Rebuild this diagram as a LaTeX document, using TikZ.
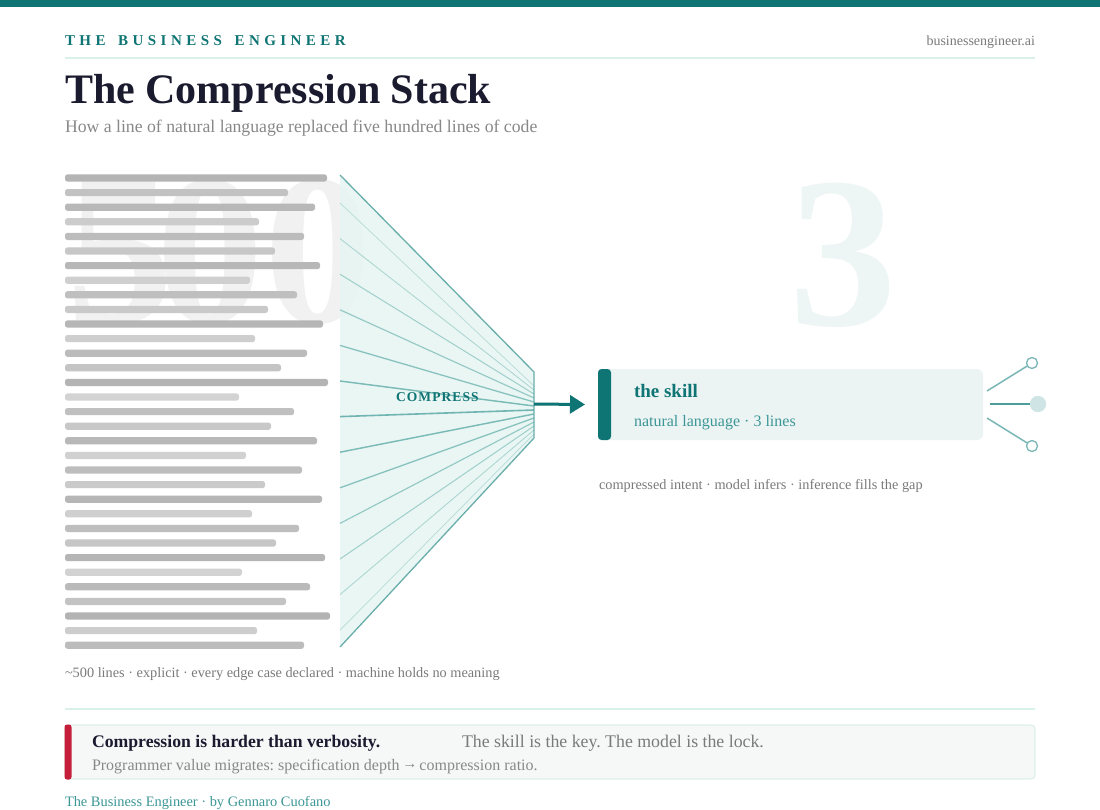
\documentclass[tikz,border=0pt]{standalone}
\usepackage{fontspec}
\setmainfont{Liberation Serif}
\usetikzlibrary{arrows.meta}
\definecolor{teal1}{HTML}{0F7474}
\definecolor{teal2}{HTML}{3D9696}
\definecolor{mint}{HTML}{D9F0EB}
\definecolor{gray1}{HTML}{7A7A7A}
\definecolor{gray2}{HTML}{888888}
\definecolor{titlec}{HTML}{1B1B2F}
\definecolor{ghost}{HTML}{F1F1F1}
\definecolor{ghostb}{HTML}{EEF5F5}
\definecolor{codedark}{HTML}{B3B3B3}
\definecolor{codelight}{HTML}{D3D3D3}
\definecolor{fanc}{HTML}{5BAAA6}
\definecolor{funfill}{HTML}{E6F5F1}
\definecolor{funstroke}{HTML}{6AAEAB}
\definecolor{skillbg}{HTML}{EBF4F3}
\definecolor{brc}{HTML}{7AB6B6}
\definecolor{brmid}{HTML}{4E9C9C}
\definecolor{dotfill}{HTML}{CFE5E5}
\definecolor{boxbg}{HTML}{F6F8F8}
\definecolor{boxline}{HTML}{DCEFEB}
\definecolor{redbar}{HTML}{C41E3A}
\makeatletter
\def\lsp#1#2{\def\lsp@amt{#1}\lsp@a#2\relax}
\def\lsp@a#1{\ifx\relax#1\else#1\hspace{\lsp@amt}\expandafter\lsp@a\fi}
\makeatother
\begin{document}
\frenchspacing
\begin{tikzpicture}[x=1pt,y=-1pt,
  every node/.style={inner sep=0pt, outer sep=0pt},
  txt/.style={anchor=base west},
  bignum/.style={anchor=base, font=\fontsize{215}{215}\selectfont\bfseries},
  branch/.style={draw=brc, line width=1.5pt},
  opendot/.style={circle, draw=brc, line width=1.3pt, fill=white, minimum size=11pt},
]
\useasboundingbox (0,0) rectangle (1100,809);
\fill[white] (0,0) rectangle (1100,809);
\fill[teal1] (0,0) rectangle (1100,7);

% header
\node[txt, text=teal1, font=\fontsize{15}{18}\selectfont\bfseries] (brand) at (65,45)
  {\lsp{4.45pt}{THE}\hspace{8.2pt}\lsp{4.45pt}{BUSINESS}\hspace{8.2pt}\lsp{4.45pt}{ENGINEER}};
\node[anchor=base east, text=gray1, font=\fontsize{14}{17}\selectfont] (url) at (1035,45) {businessengineer.ai};
\draw[mint, line width=2pt] (65,57.5) -- (1035,57.5);
\node[txt, text=titlec, font=\fontsize{42}{50}\selectfont\bfseries] (title) at (65,103) {The Compression Stack};
\node[txt, text=gray2, font=\fontsize{17.7}{20}\selectfont] (sub) at (65,132) {How a line of natural language replaced five hundred lines of code};

% ghost numbers
\node[bignum, text=ghost] (d5) at (120,322) {5};
\node[bignum, text=ghost] (d0a) at (210,322) {0};
\node[bignum, text=ghost] (d0b) at (318,322) {0};
\node[bignum, text=ghostb] (three) at (843,325) {3};

% funnel fill
\fill[funfill, fill opacity=0.85] (340,175) -- (534,372) -- (534,438) -- (340,647) -- cycle;

% code lines
\foreach \len [count=\k from 0] in {327,288,315,259,304,275,320,250,297,268,323,255,307,281,328,239,294,271,317,246,302,265,322,252,299,276,325,242,310,286,330,257,304}{
  \pgfmathsetmacro\yy{178+\k*14.6}
  \pgfmathtruncatemacro\pp{max(0,min(100,(\len-239)/91*100))}
  \fill[codedark!\pp!codelight, rounded corners=2.5pt] (65,\yy-3.6) rectangle (\len,\yy+3.6);
}

% fan lines
\foreach \i in {0,...,12}{
  \pgfmathsetmacro\ys{203+\i*35.6}
  \pgfmathsetmacro\ye{386+\i*4}
  \pgfmathsetmacro\ww{1-abs(\i-6)/6}
  \pgfmathsetmacro\op{0.35+0.5*\ww}
  \pgfmathsetmacro\lw{0.7+0.9*\ww}
  \draw[fanc, line width=\lw pt, draw opacity=\op] (340,\ys) -- (534,\ye);
}
\draw[funstroke, line width=1.3pt, line join=round] (340,175) -- (534,372) -- (534,438) -- (340,647);

\node[txt, text=teal1, font=\fontsize{13.5}{16}\selectfont\bfseries] (compress) at (396,401.5) {\lsp{1.1pt}{COMPRESS}};

% skill box
\node[fill=skillbg, rounded corners=6pt, minimum width=385pt, minimum height=71pt, anchor=north west] (skill) at (598,369) {};
\node[fill=teal1, rounded corners=3.5pt, minimum width=13pt, minimum height=71pt, anchor=north west] (acc) at (598,369) {};
\node[txt, text=teal1, font=\fontsize{19}{22}\selectfont\bfseries] (skilltitle) at (634,397) {the skill};
\node[txt, text=teal2, font=\fontsize{16}{19}\selectfont] (skillsub) at (634,426) {natural language · 3 lines};

\coordinate (fr) at (534,404);
\draw[teal1, line width=3pt, -{Triangle[length=15pt,width=18pt]}] (fr) -- ([xshift=-13pt]acc.west);

% branches
\coordinate (b1) at (987,391);
\coordinate (b2) at (990,404);
\coordinate (b3) at (987,418);
\node[opendot] (c1) at (1032,363) {};
\node[circle, fill=dotfill, minimum size=16pt] (c2) at (1038,404) {};
\node[opendot] (c3) at (1032,446) {};
\draw[branch] (b1) -- (c1);
\draw[branch] (b3) -- (c3);
\draw[brmid, line width=2.5pt] (b2) -- (c2.center);
\node[circle, fill=dotfill, minimum size=16pt] at (c2) {};

\node[txt, text=gray1, font=\fontsize{14.3}{17}\selectfont] (capr) at (599,489) {compressed intent · model infers · inference fills the gap};
\node[txt, text=gray1, font=\fontsize{14.3}{17}\selectfont] (capl) at (65,677) {\textasciitilde500 lines · explicit · every edge case declared · machine holds no meaning};

% bottom
\draw[mint, line width=2pt] (65,708.5) -- (1035,708.5);
\node[draw=boxline, line width=1.2pt, fill=boxbg, rounded corners=4pt, minimum width=970pt, minimum height=54pt, anchor=north west] (note) at (65,725) {};
\node[fill=redbar, rounded corners=2.5pt, minimum width=7pt, minimum height=55pt, anchor=north west] (rb) at (64.5,724.5) {};
\node[txt, text=titlec, font=\fontsize{17.7}{21}\selectfont\bfseries] (n1) at (92,747) {Compression is harder than verbosity.};
\node[txt, text=gray1, font=\fontsize{17.8}{21}\selectfont] (n2) at (462,747) {The skill is the key. The model is the lock.};
\node[txt, text=gray2, font=\fontsize{16}{18}\selectfont] (n3) at (92,770) {Programmer value migrates: specification depth\hspace{3pt}\raisebox{2pt}{\fontsize{15}{15}\selectfont →}\hspace{2pt}compression ratio.};
\node[txt, text=teal2, font=\fontsize{14.4}{17}\selectfont] (foot) at (65,806) {The Business Engineer · by Gennaro Cuofano};
\end{tikzpicture}
\end{document}
